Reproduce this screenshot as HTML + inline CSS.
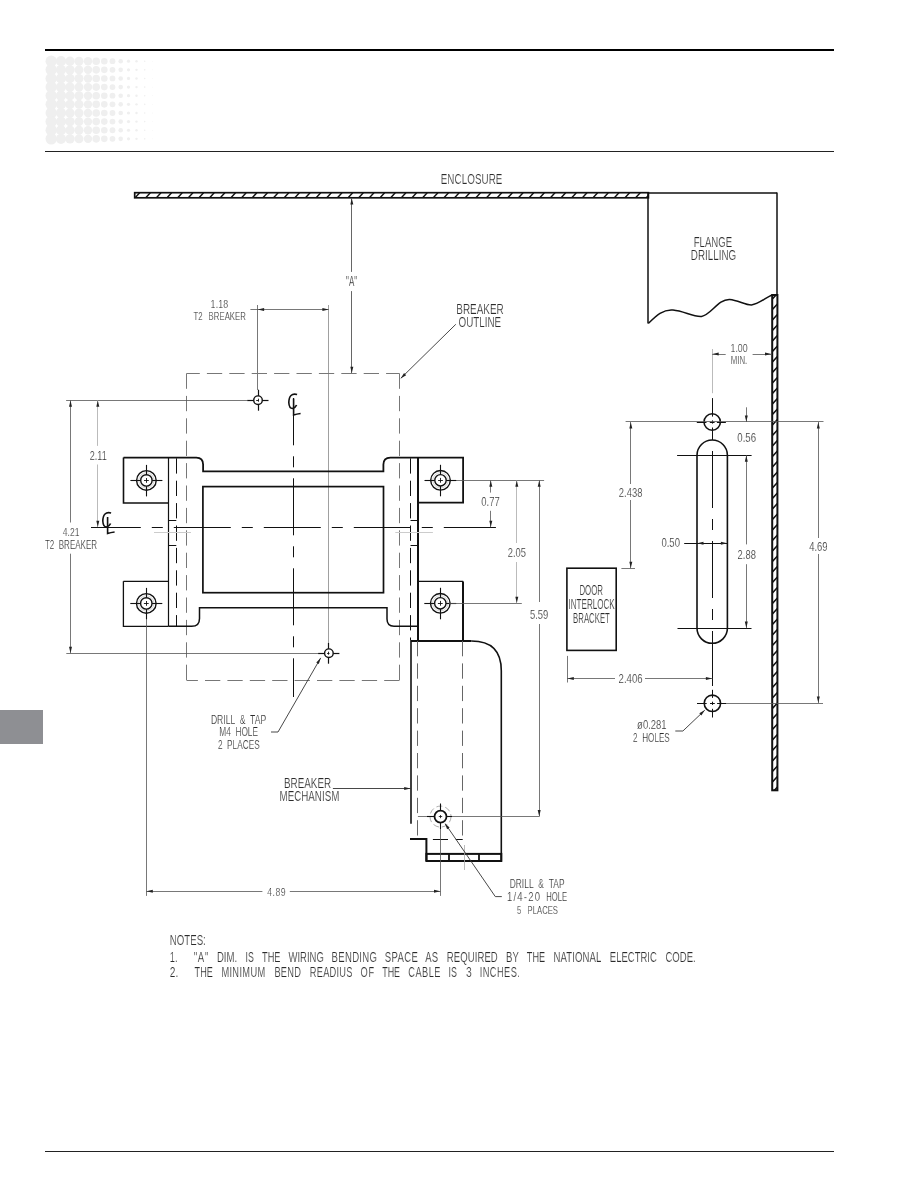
<!DOCTYPE html>
<html><head><meta charset="utf-8"><style>
html,body{margin:0;padding:0;background:#fff;}
body{width:918px;height:1188px;overflow:hidden;}
svg{display:block;}
text{font-family:"Liberation Sans",sans-serif;white-space:pre;}
</style></head><body>
<svg width="918" height="1188" viewBox="0 0 918 1188">
<rect width="918" height="1188" fill="#fff"/>
<line x1="45.00" y1="50.00" x2="834.00" y2="50.00" stroke="#000" stroke-width="2.0" />
<line x1="45.00" y1="151.50" x2="834.00" y2="151.50" stroke="#222" stroke-width="1.0" />
<line x1="45.00" y1="1151.50" x2="834.00" y2="1151.50" stroke="#222" stroke-width="1.0" />
<rect x="0" y="710" width="43" height="34" fill="#8e8f93"/>
<g fill="#efefef"><circle cx="51.20" cy="61.20" r="5.7"/><circle cx="61.00" cy="61.20" r="5.1"/><circle cx="70.00" cy="61.20" r="4.7"/><circle cx="79.00" cy="61.20" r="4.5"/><circle cx="88.00" cy="61.20" r="4.2"/><circle cx="96.20" cy="61.20" r="3.8"/><circle cx="104.30" cy="61.20" r="3.3"/><circle cx="112.50" cy="61.20" r="2.9"/><circle cx="120.70" cy="61.20" r="2.3"/><circle cx="128.50" cy="61.20" r="1.6"/><circle cx="136.50" cy="61.20" r="1.2"/><circle cx="144.70" cy="61.20" r="0.8"/><circle cx="152.50" cy="61.20" r="0.4"/><circle cx="51.20" cy="69.83" r="5.7"/><circle cx="61.00" cy="69.83" r="5.1"/><circle cx="70.00" cy="69.83" r="4.7"/><circle cx="79.00" cy="69.83" r="4.5"/><circle cx="88.00" cy="69.83" r="4.2"/><circle cx="96.20" cy="69.83" r="3.8"/><circle cx="104.30" cy="69.83" r="3.3"/><circle cx="112.50" cy="69.83" r="2.9"/><circle cx="120.70" cy="69.83" r="2.3"/><circle cx="128.50" cy="69.83" r="1.6"/><circle cx="136.50" cy="69.83" r="1.2"/><circle cx="144.70" cy="69.83" r="0.8"/><circle cx="152.50" cy="69.83" r="0.4"/><circle cx="51.20" cy="78.46" r="5.7"/><circle cx="61.00" cy="78.46" r="5.1"/><circle cx="70.00" cy="78.46" r="4.7"/><circle cx="79.00" cy="78.46" r="4.5"/><circle cx="88.00" cy="78.46" r="4.2"/><circle cx="96.20" cy="78.46" r="3.8"/><circle cx="104.30" cy="78.46" r="3.3"/><circle cx="112.50" cy="78.46" r="2.9"/><circle cx="120.70" cy="78.46" r="2.3"/><circle cx="128.50" cy="78.46" r="1.6"/><circle cx="136.50" cy="78.46" r="1.2"/><circle cx="144.70" cy="78.46" r="0.8"/><circle cx="152.50" cy="78.46" r="0.4"/><circle cx="51.20" cy="87.09" r="5.7"/><circle cx="61.00" cy="87.09" r="5.1"/><circle cx="70.00" cy="87.09" r="4.7"/><circle cx="79.00" cy="87.09" r="4.5"/><circle cx="88.00" cy="87.09" r="4.2"/><circle cx="96.20" cy="87.09" r="3.8"/><circle cx="104.30" cy="87.09" r="3.3"/><circle cx="112.50" cy="87.09" r="2.9"/><circle cx="120.70" cy="87.09" r="2.3"/><circle cx="128.50" cy="87.09" r="1.6"/><circle cx="136.50" cy="87.09" r="1.2"/><circle cx="144.70" cy="87.09" r="0.8"/><circle cx="152.50" cy="87.09" r="0.4"/><circle cx="51.20" cy="95.72" r="5.7"/><circle cx="61.00" cy="95.72" r="5.1"/><circle cx="70.00" cy="95.72" r="4.7"/><circle cx="79.00" cy="95.72" r="4.5"/><circle cx="88.00" cy="95.72" r="4.2"/><circle cx="96.20" cy="95.72" r="3.8"/><circle cx="104.30" cy="95.72" r="3.3"/><circle cx="112.50" cy="95.72" r="2.9"/><circle cx="120.70" cy="95.72" r="2.3"/><circle cx="128.50" cy="95.72" r="1.6"/><circle cx="136.50" cy="95.72" r="1.2"/><circle cx="144.70" cy="95.72" r="0.8"/><circle cx="152.50" cy="95.72" r="0.4"/><circle cx="51.20" cy="104.35" r="5.7"/><circle cx="61.00" cy="104.35" r="5.1"/><circle cx="70.00" cy="104.35" r="4.7"/><circle cx="79.00" cy="104.35" r="4.5"/><circle cx="88.00" cy="104.35" r="4.2"/><circle cx="96.20" cy="104.35" r="3.8"/><circle cx="104.30" cy="104.35" r="3.3"/><circle cx="112.50" cy="104.35" r="2.9"/><circle cx="120.70" cy="104.35" r="2.3"/><circle cx="128.50" cy="104.35" r="1.6"/><circle cx="136.50" cy="104.35" r="1.2"/><circle cx="144.70" cy="104.35" r="0.8"/><circle cx="152.50" cy="104.35" r="0.4"/><circle cx="51.20" cy="112.98" r="5.7"/><circle cx="61.00" cy="112.98" r="5.1"/><circle cx="70.00" cy="112.98" r="4.7"/><circle cx="79.00" cy="112.98" r="4.5"/><circle cx="88.00" cy="112.98" r="4.2"/><circle cx="96.20" cy="112.98" r="3.8"/><circle cx="104.30" cy="112.98" r="3.3"/><circle cx="112.50" cy="112.98" r="2.9"/><circle cx="120.70" cy="112.98" r="2.3"/><circle cx="128.50" cy="112.98" r="1.6"/><circle cx="136.50" cy="112.98" r="1.2"/><circle cx="144.70" cy="112.98" r="0.8"/><circle cx="152.50" cy="112.98" r="0.4"/><circle cx="51.20" cy="121.61" r="5.7"/><circle cx="61.00" cy="121.61" r="5.1"/><circle cx="70.00" cy="121.61" r="4.7"/><circle cx="79.00" cy="121.61" r="4.5"/><circle cx="88.00" cy="121.61" r="4.2"/><circle cx="96.20" cy="121.61" r="3.8"/><circle cx="104.30" cy="121.61" r="3.3"/><circle cx="112.50" cy="121.61" r="2.9"/><circle cx="120.70" cy="121.61" r="2.3"/><circle cx="128.50" cy="121.61" r="1.6"/><circle cx="136.50" cy="121.61" r="1.2"/><circle cx="144.70" cy="121.61" r="0.8"/><circle cx="152.50" cy="121.61" r="0.4"/><circle cx="51.20" cy="130.24" r="5.7"/><circle cx="61.00" cy="130.24" r="5.1"/><circle cx="70.00" cy="130.24" r="4.7"/><circle cx="79.00" cy="130.24" r="4.5"/><circle cx="88.00" cy="130.24" r="4.2"/><circle cx="96.20" cy="130.24" r="3.8"/><circle cx="104.30" cy="130.24" r="3.3"/><circle cx="112.50" cy="130.24" r="2.9"/><circle cx="120.70" cy="130.24" r="2.3"/><circle cx="128.50" cy="130.24" r="1.6"/><circle cx="136.50" cy="130.24" r="1.2"/><circle cx="144.70" cy="130.24" r="0.8"/><circle cx="152.50" cy="130.24" r="0.4"/><circle cx="51.20" cy="138.87" r="5.7"/><circle cx="61.00" cy="138.87" r="5.1"/><circle cx="70.00" cy="138.87" r="4.7"/><circle cx="79.00" cy="138.87" r="4.5"/><circle cx="88.00" cy="138.87" r="4.2"/><circle cx="96.20" cy="138.87" r="3.8"/><circle cx="104.30" cy="138.87" r="3.3"/><circle cx="112.50" cy="138.87" r="2.9"/><circle cx="120.70" cy="138.87" r="2.3"/><circle cx="128.50" cy="138.87" r="1.6"/><circle cx="136.50" cy="138.87" r="1.2"/><circle cx="144.70" cy="138.87" r="0.8"/><circle cx="152.50" cy="138.87" r="0.4"/></g>
<clipPath id="c5"><rect x="134.7" y="192.7" width="513.7" height="5.100000000000023"/></clipPath>
<path d="M135.10,197.80 L139.69,192.70 M145.75,197.80 L150.34,192.70 M156.40,197.80 L160.99,192.70 M167.05,197.80 L171.64,192.70 M177.70,197.80 L182.29,192.70 M188.35,197.80 L192.94,192.70 M199.00,197.80 L203.59,192.70 M209.65,197.80 L214.24,192.70 M220.30,197.80 L224.89,192.70 M230.95,197.80 L235.54,192.70 M241.60,197.80 L246.19,192.70 M252.25,197.80 L256.84,192.70 M262.90,197.80 L267.49,192.70 M273.55,197.80 L278.14,192.70 M284.20,197.80 L288.79,192.70 M294.85,197.80 L299.44,192.70 M305.50,197.80 L310.09,192.70 M316.15,197.80 L320.74,192.70 M326.80,197.80 L331.39,192.70 M337.45,197.80 L342.04,192.70 M348.10,197.80 L352.69,192.70 M358.75,197.80 L363.34,192.70 M369.40,197.80 L373.99,192.70 M380.05,197.80 L384.64,192.70 M390.70,197.80 L395.29,192.70 M401.35,197.80 L405.94,192.70 M412.00,197.80 L416.59,192.70 M422.65,197.80 L427.24,192.70 M433.30,197.80 L437.89,192.70 M443.95,197.80 L448.54,192.70 M454.60,197.80 L459.19,192.70 M465.25,197.80 L469.84,192.70 M475.90,197.80 L480.49,192.70 M486.55,197.80 L491.14,192.70 M497.20,197.80 L501.79,192.70 M507.85,197.80 L512.44,192.70 M518.50,197.80 L523.09,192.70 M529.15,197.80 L533.74,192.70 M539.80,197.80 L544.39,192.70 M550.45,197.80 L555.04,192.70 M561.10,197.80 L565.69,192.70 M571.75,197.80 L576.34,192.70 M582.40,197.80 L586.99,192.70 M593.05,197.80 L597.64,192.70 M603.70,197.80 L608.29,192.70 M614.35,197.80 L618.94,192.70 M625.00,197.80 L629.59,192.70 M635.65,197.80 L640.24,192.70 M646.30,197.80 L650.89,192.70 " stroke="#111" stroke-width="1.4" clip-path="url(#c5)"/>
<rect x="134.7" y="192.7" width="513.7" height="5.100000000000023" fill="none" stroke="#111" stroke-width="1.7"/>
<line x1="648.40" y1="193.00" x2="777.00" y2="193.00" stroke="#111" stroke-width="1.5" />
<line x1="648.00" y1="192.60" x2="648.00" y2="323.40" stroke="#111" stroke-width="1.5" />
<line x1="777.00" y1="192.60" x2="777.00" y2="295.00" stroke="#111" stroke-width="1.5" />
<path d="M648.4,323.4 C656,316 663,309 673,310 C684,311 693,317 701.5,316.4 C711,315 718,299 729.6,299.4 C738,300 745,305 751.4,304.9 C759,304 765,298 772,295" stroke="#111" stroke-width="1.5" fill="none" />
<clipPath id="c12"><rect x="772.2" y="295" width="5.199999999999932" height="495.29999999999995"/></clipPath>
<path d="M772.20,299.20 L777.40,293.48 M772.20,309.70 L777.40,303.98 M772.20,320.20 L777.40,314.48 M772.20,330.70 L777.40,324.98 M772.20,341.20 L777.40,335.48 M772.20,351.70 L777.40,345.98 M772.20,362.20 L777.40,356.48 M772.20,372.70 L777.40,366.98 M772.20,383.20 L777.40,377.48 M772.20,393.70 L777.40,387.98 M772.20,404.20 L777.40,398.48 M772.20,414.70 L777.40,408.98 M772.20,425.20 L777.40,419.48 M772.20,435.70 L777.40,429.98 M772.20,446.20 L777.40,440.48 M772.20,456.70 L777.40,450.98 M772.20,467.20 L777.40,461.48 M772.20,477.70 L777.40,471.98 M772.20,488.20 L777.40,482.48 M772.20,498.70 L777.40,492.98 M772.20,509.20 L777.40,503.48 M772.20,519.70 L777.40,513.98 M772.20,530.20 L777.40,524.48 M772.20,540.70 L777.40,534.98 M772.20,551.20 L777.40,545.48 M772.20,561.70 L777.40,555.98 M772.20,572.20 L777.40,566.48 M772.20,582.70 L777.40,576.98 M772.20,593.20 L777.40,587.48 M772.20,603.70 L777.40,597.98 M772.20,614.20 L777.40,608.48 M772.20,624.70 L777.40,618.98 M772.20,635.20 L777.40,629.48 M772.20,645.70 L777.40,639.98 M772.20,656.20 L777.40,650.48 M772.20,666.70 L777.40,660.98 M772.20,677.20 L777.40,671.48 M772.20,687.70 L777.40,681.98 M772.20,698.20 L777.40,692.48 M772.20,708.70 L777.40,702.98 M772.20,719.20 L777.40,713.48 M772.20,729.70 L777.40,723.98 M772.20,740.20 L777.40,734.48 M772.20,750.70 L777.40,744.98 M772.20,761.20 L777.40,755.48 M772.20,771.70 L777.40,765.98 M772.20,782.20 L777.40,776.48 M772.20,792.70 L777.40,786.98 " stroke="#111" stroke-width="1.5" clip-path="url(#c12)"/>
<rect x="772.2" y="295" width="5.199999999999932" height="495.29999999999995" fill="none" stroke="#111" stroke-width="2.0"/>
<line x1="351.50" y1="198.00" x2="351.50" y2="271.90" stroke="#555" stroke-width="0.9" />
<line x1="351.50" y1="291.10" x2="351.50" y2="373.00" stroke="#555" stroke-width="0.9" />
<path d="M351.80,198.20 L353.30,204.50 L350.30,204.50 Z" fill="#222"/>
<path d="M351.80,373.00 L350.30,366.70 L353.30,366.70 Z" fill="#222"/>
<line x1="257.50" y1="305.00" x2="257.50" y2="390.00" stroke="#555" stroke-width="0.8" />
<line x1="328.50" y1="305.00" x2="328.50" y2="642.50" stroke="#888" stroke-width="0.8" />
<line x1="250.40" y1="309.50" x2="328.70" y2="309.50" stroke="#555" stroke-width="0.8" />
<path d="M257.80,309.40 L264.10,307.90 L264.10,310.90 Z" fill="#222"/>
<path d="M328.70,309.40 L322.40,310.90 L322.40,307.90 Z" fill="#222"/>
<path d="M186.5,373.5 H399.5" fill="none" stroke="#777" stroke-width="1" stroke-dasharray="15.3 7.1" stroke-dashoffset="2"/>
<path d="M399.5,373.5 V680.5" fill="none" stroke="#777" stroke-width="1" stroke-dasharray="15.3 7.1" stroke-dashoffset="0"/>
<path d="M186.5,373.5 V680.5" fill="none" stroke="#777" stroke-width="1" stroke-dasharray="15.3 7.1" stroke-dashoffset="0"/>
<path d="M399.5,680.5 H186.5" fill="none" stroke="#777" stroke-width="1" stroke-dasharray="15.3 7.1" stroke-dashoffset="0"/>
<line x1="455.80" y1="324.30" x2="400.80" y2="378.30" stroke="#333" stroke-width="0.9" />
<path d="M400.60,378.50 L404.05,373.02 L406.15,375.16 Z" fill="#222"/>
<line x1="66.10" y1="400.50" x2="247.00" y2="400.50" stroke="#555" stroke-width="0.8" />
<line x1="66.30" y1="653.50" x2="318.00" y2="653.50" stroke="#555" stroke-width="0.8" />
<line x1="70.50" y1="400.20" x2="70.50" y2="522.50" stroke="#555" stroke-width="0.8" />
<line x1="70.50" y1="553.70" x2="70.50" y2="653.30" stroke="#555" stroke-width="0.8" />
<path d="M70.50,400.40 L72.00,406.70 L69.00,406.70 Z" fill="#222"/>
<path d="M70.50,653.10 L69.00,646.80 L72.00,646.80 Z" fill="#222"/>
<line x1="97.50" y1="400.20" x2="97.50" y2="445.90" stroke="#aaa" stroke-width="0.8" />
<line x1="97.50" y1="464.50" x2="97.50" y2="527.30" stroke="#aaa" stroke-width="0.8" />
<path d="M97.80,400.40 L99.30,406.70 L96.30,406.70 Z" fill="#222"/>
<path d="M97.80,527.10 L96.30,520.80 L99.30,520.80 Z" fill="#222"/>
<circle cx="258.00" cy="400.20" r="4.30" stroke="#111" stroke-width="1.4" fill="none" />
<line x1="247.20" y1="400.50" x2="253.70" y2="400.50" stroke="#111" stroke-width="1.2" />
<line x1="262.30" y1="400.50" x2="268.50" y2="400.50" stroke="#111" stroke-width="1.2" />
<line x1="258.50" y1="389.70" x2="258.50" y2="395.90" stroke="#111" stroke-width="1.2" />
<line x1="258.50" y1="404.50" x2="258.50" y2="410.70" stroke="#111" stroke-width="1.2" />
<line x1="256.20" y1="400.50" x2="258.60" y2="400.50" stroke="#111" stroke-width="0.9" />
<line x1="258.50" y1="398.70" x2="258.50" y2="401.70" stroke="#111" stroke-width="0.9" />
<circle cx="328.90" cy="653.20" r="4.30" stroke="#111" stroke-width="1.4" fill="none" />
<line x1="318.10" y1="653.50" x2="324.60" y2="653.50" stroke="#111" stroke-width="1.2" />
<line x1="333.20" y1="653.50" x2="339.40" y2="653.50" stroke="#111" stroke-width="1.2" />
<line x1="328.50" y1="642.70" x2="328.50" y2="648.90" stroke="#111" stroke-width="1.2" />
<line x1="328.50" y1="657.50" x2="328.50" y2="663.70" stroke="#111" stroke-width="1.2" />
<line x1="327.10" y1="653.50" x2="329.50" y2="653.50" stroke="#111" stroke-width="0.9" />
<line x1="328.50" y1="651.70" x2="328.50" y2="654.70" stroke="#111" stroke-width="0.9" />
<path d="M297.10,394.50 Q289.10,392.50 288.80,402.50 Q289.10,408.50 292.60,408.50 Q295.60,407.5  296.60,405.00" stroke="#111" stroke-width="1.6" fill="none" />
<path d="M293.60,398.50 L293.60,415.00 Q296.60,414.00 300.60,413.50" stroke="#111" stroke-width="1.6" fill="none" />
<path d="M111.10,513.00 Q103.10,511.00 102.80,521.00 Q103.10,527.00 106.60,527.00 Q109.60,526  110.60,523.50" stroke="#111" stroke-width="1.6" fill="none" />
<path d="M107.60,517.00 L107.60,533.50 Q110.60,532.50 114.60,532.00" stroke="#111" stroke-width="1.6" fill="none" />
<line x1="91.00" y1="527.50" x2="495.80" y2="527.50" stroke="#111" stroke-width="1.0" stroke-dasharray="57 11 11 11" stroke-dashoffset="7.2"/>
<line x1="293.50" y1="398.00" x2="293.50" y2="697.00" stroke="#111" stroke-width="1.0" stroke-dasharray="57 11 11 11" stroke-dashoffset="9.7"/>
<path d="M123.5,457.6 L196.3,457.6 Q203.1,457.6 203.1,464.5 L203.1,471.4 L383.4,471.4 L383.4,464.6 Q383.4,457.6 390.4,457.6 L463.1,457.6 L463.1,502.6 L418.2,502.6" stroke="#111" stroke-width="1.8" fill="none" />
<path d="M123.5,457.6 L123.5,503 L168.4,503" stroke="#111" stroke-width="1.6" fill="none" />
<rect x="202.9" y="486.6" width="180.6" height="106.1" fill="none" stroke="#111" stroke-width="1.7"/>
<path d="M168.5,626.3 L191.7,626.3 Q199.5,626.3 199.5,618.4 L199.5,607.7 L387,607.7 L387,619 Q387,626.2 394,626.2 L418.4,626.2" stroke="#111" stroke-width="1.5" fill="none" />
<path d="M123.4,581.3 L168.5,581.3 M123.4,581.3 L123.4,626.3 L168.5,626.3" stroke="#111" stroke-width="1.3" fill="none" />
<path d="M418.4,581.4 L463.2,581.4" stroke="#111" stroke-width="1.3" fill="none" />
<line x1="463.00" y1="581.40" x2="463.00" y2="640.70" stroke="#111" stroke-width="2.0" />
<line x1="168.50" y1="457.60" x2="168.50" y2="626.30" stroke="#111" stroke-width="1.2" />
<line x1="418.00" y1="457.60" x2="418.00" y2="640.70" stroke="#111" stroke-width="2.0" />
<line x1="176.50" y1="458.30" x2="176.50" y2="626.30" stroke="#111" stroke-width="1.0" stroke-dasharray="15.3 7.1"/>
<line x1="410.50" y1="458.30" x2="410.50" y2="640.70" stroke="#111" stroke-width="1.0" stroke-dasharray="15.3 7.1"/>
<line x1="168.50" y1="520.50" x2="176.30" y2="520.50" stroke="#111" stroke-width="1.0" />
<line x1="410.50" y1="520.50" x2="418.20" y2="520.50" stroke="#111" stroke-width="1.0" />
<line x1="168.50" y1="545.50" x2="176.30" y2="545.50" stroke="#111" stroke-width="1.0" />
<line x1="410.50" y1="545.50" x2="418.20" y2="545.50" stroke="#111" stroke-width="1.0" />
<line x1="154.00" y1="532.50" x2="191.00" y2="532.50" stroke="#ccc" stroke-width="1.2" />
<line x1="395.30" y1="532.50" x2="432.90" y2="532.50" stroke="#ccc" stroke-width="1.2" />
<circle cx="146.40" cy="480.40" r="9.80" stroke="#111" stroke-width="1.4" fill="none" />
<circle cx="146.40" cy="480.40" r="5.70" stroke="#111" stroke-width="1.4" fill="none" />
<circle cx="146.40" cy="480.40" r="7.70" stroke="#aaa" stroke-width="0.5" fill="none" />
<line x1="130.40" y1="480.50" x2="140.70" y2="480.50" stroke="#111" stroke-width="1.1" />
<line x1="152.10" y1="480.50" x2="162.40" y2="480.50" stroke="#111" stroke-width="1.1" />
<line x1="146.50" y1="464.90" x2="146.50" y2="474.70" stroke="#111" stroke-width="1.1" />
<line x1="146.50" y1="486.10" x2="146.50" y2="496.40" stroke="#111" stroke-width="1.1" />
<line x1="144.00" y1="480.50" x2="148.80" y2="480.50" stroke="#111" stroke-width="0.9" />
<line x1="146.50" y1="478.00" x2="146.50" y2="482.80" stroke="#111" stroke-width="0.9" />
<circle cx="440.50" cy="480.30" r="9.80" stroke="#111" stroke-width="1.4" fill="none" />
<circle cx="440.50" cy="480.30" r="5.70" stroke="#111" stroke-width="1.4" fill="none" />
<circle cx="440.50" cy="480.30" r="7.70" stroke="#aaa" stroke-width="0.5" fill="none" />
<line x1="424.50" y1="480.50" x2="434.80" y2="480.50" stroke="#111" stroke-width="1.1" />
<line x1="446.20" y1="480.50" x2="456.50" y2="480.50" stroke="#111" stroke-width="1.1" />
<line x1="440.50" y1="464.80" x2="440.50" y2="474.60" stroke="#111" stroke-width="1.1" />
<line x1="440.50" y1="486.00" x2="440.50" y2="496.30" stroke="#111" stroke-width="1.1" />
<line x1="438.10" y1="480.50" x2="442.90" y2="480.50" stroke="#111" stroke-width="0.9" />
<line x1="440.50" y1="477.90" x2="440.50" y2="482.70" stroke="#111" stroke-width="0.9" />
<circle cx="146.30" cy="603.40" r="9.80" stroke="#111" stroke-width="1.4" fill="none" />
<circle cx="146.30" cy="603.40" r="5.70" stroke="#111" stroke-width="1.4" fill="none" />
<circle cx="146.30" cy="603.40" r="7.70" stroke="#aaa" stroke-width="0.5" fill="none" />
<line x1="130.30" y1="603.50" x2="140.60" y2="603.50" stroke="#111" stroke-width="1.1" />
<line x1="152.00" y1="603.50" x2="162.30" y2="603.50" stroke="#111" stroke-width="1.1" />
<line x1="146.50" y1="587.90" x2="146.50" y2="597.70" stroke="#111" stroke-width="1.1" />
<line x1="146.50" y1="609.10" x2="146.50" y2="619.40" stroke="#111" stroke-width="1.1" />
<line x1="143.90" y1="603.50" x2="148.70" y2="603.50" stroke="#111" stroke-width="0.9" />
<line x1="146.50" y1="601.00" x2="146.50" y2="605.80" stroke="#111" stroke-width="0.9" />
<circle cx="440.30" cy="603.30" r="9.80" stroke="#111" stroke-width="1.4" fill="none" />
<circle cx="440.30" cy="603.30" r="5.70" stroke="#111" stroke-width="1.4" fill="none" />
<circle cx="440.30" cy="603.30" r="7.70" stroke="#aaa" stroke-width="0.5" fill="none" />
<line x1="424.30" y1="603.50" x2="434.60" y2="603.50" stroke="#111" stroke-width="1.1" />
<line x1="446.00" y1="603.50" x2="456.30" y2="603.50" stroke="#111" stroke-width="1.1" />
<line x1="440.50" y1="587.80" x2="440.50" y2="597.60" stroke="#111" stroke-width="1.1" />
<line x1="440.50" y1="609.00" x2="440.50" y2="619.30" stroke="#111" stroke-width="1.1" />
<line x1="437.90" y1="603.50" x2="442.70" y2="603.50" stroke="#111" stroke-width="0.9" />
<line x1="440.50" y1="600.90" x2="440.50" y2="605.70" stroke="#111" stroke-width="0.9" />
<line x1="456.00" y1="480.50" x2="544.10" y2="480.50" stroke="#555" stroke-width="0.8" />
<line x1="463.00" y1="527.50" x2="495.60" y2="527.50" stroke="#111" stroke-width="1.0" />
<line x1="449.00" y1="603.50" x2="521.80" y2="603.50" stroke="#555" stroke-width="0.8" />
<line x1="490.50" y1="480.30" x2="490.50" y2="492.60" stroke="#555" stroke-width="0.8" />
<line x1="490.50" y1="510.80" x2="490.50" y2="527.20" stroke="#555" stroke-width="0.8" />
<path d="M490.80,480.50 L492.30,486.80 L489.30,486.80 Z" fill="#222"/>
<path d="M490.80,527.00 L489.30,520.70 L492.30,520.70 Z" fill="#222"/>
<line x1="516.50" y1="480.30" x2="516.50" y2="543.00" stroke="#aaa" stroke-width="0.8" />
<line x1="516.50" y1="562.00" x2="516.50" y2="603.20" stroke="#aaa" stroke-width="0.8" />
<path d="M516.80,480.50 L518.30,486.80 L515.30,486.80 Z" fill="#222"/>
<path d="M516.80,603.00 L515.30,596.70 L518.30,596.70 Z" fill="#222"/>
<line x1="539.50" y1="480.30" x2="539.50" y2="602.00" stroke="#555" stroke-width="0.8" />
<line x1="539.50" y1="624.00" x2="539.50" y2="816.60" stroke="#555" stroke-width="0.8" />
<path d="M539.20,480.50 L540.70,486.80 L537.70,486.80 Z" fill="#222"/>
<path d="M539.20,816.40 L537.70,810.10 L540.70,810.10 Z" fill="#222"/>
<line x1="410.90" y1="641.00" x2="471.50" y2="641.00" stroke="#111" stroke-width="2.0" />
<path d="M471.5,641 Q501.3,641 501.3,670.7 L501.3,861" stroke="#111" stroke-width="1.6" fill="none" />
<line x1="411.00" y1="640.70" x2="411.00" y2="823.80" stroke="#111" stroke-width="1.6" />
<line x1="417.50" y1="641.00" x2="417.50" y2="839.00" stroke="#666" stroke-width="1.0" stroke-dasharray="15.3 7.1"/>
<line x1="462.50" y1="641.00" x2="462.50" y2="839.00" stroke="#666" stroke-width="1.0" stroke-dasharray="15.3 7.1"/>
<path d="M410,839.1 L426.4,839.1 L426.4,861" stroke="#111" stroke-width="2.0" fill="none" />
<rect x="426.4" y="853.9" width="74.9" height="7.1" fill="none" stroke="#111" stroke-width="2"/>
<line x1="449.00" y1="853.90" x2="449.00" y2="861.00" stroke="#111" stroke-width="1.8" />
<line x1="479.00" y1="853.90" x2="479.00" y2="861.00" stroke="#111" stroke-width="1.8" />
<line x1="432.90" y1="839.50" x2="448.00" y2="839.50" stroke="#111" stroke-width="1.0" />
<line x1="455.80" y1="839.50" x2="462.70" y2="839.50" stroke="#111" stroke-width="1.0" />
<line x1="464.50" y1="845.00" x2="464.50" y2="870.00" stroke="#aaa" stroke-width="0.8" />
<circle cx="440.50" cy="816.60" r="6.00" stroke="#111" stroke-width="1.8" fill="none" />
<circle cx="440.50" cy="816.60" r="10.50" stroke="#777" stroke-width="0.6" fill="none" stroke-dasharray="6 3"/>
<line x1="427.00" y1="816.50" x2="434.50" y2="816.50" stroke="#111" stroke-width="1.1" />
<line x1="446.50" y1="816.50" x2="452.50" y2="816.50" stroke="#111" stroke-width="1.1" />
<line x1="440.50" y1="803.50" x2="440.50" y2="810.60" stroke="#111" stroke-width="1.1" />
<line x1="440.50" y1="822.60" x2="440.50" y2="829.00" stroke="#111" stroke-width="1.1" />
<line x1="438.80" y1="816.50" x2="442.20" y2="816.50" stroke="#111" stroke-width="0.8" />
<line x1="440.50" y1="815.00" x2="440.50" y2="818.20" stroke="#111" stroke-width="0.8" />
<line x1="452.50" y1="816.50" x2="539.20" y2="816.50" stroke="#555" stroke-width="0.8" />
<line x1="417.90" y1="816.50" x2="427.00" y2="816.50" stroke="#555" stroke-width="0.8" />
<line x1="440.50" y1="829.00" x2="440.50" y2="895.90" stroke="#555" stroke-width="0.8" />
<line x1="146.50" y1="619.00" x2="146.50" y2="895.90" stroke="#555" stroke-width="0.8" />
<line x1="146.30" y1="891.50" x2="262.40" y2="891.50" stroke="#555" stroke-width="0.8" />
<line x1="289.80" y1="891.50" x2="440.50" y2="891.50" stroke="#555" stroke-width="0.8" />
<path d="M146.50,891.20 L152.80,889.70 L152.80,892.70 Z" fill="#222"/>
<path d="M440.30,891.20 L434.00,892.70 L434.00,889.70 Z" fill="#222"/>
<path d="M445.3,823.8 L495.3,896.6 L501.8,896.6" stroke="#333" stroke-width="0.9" fill="none" />
<path d="M444.80,823.20 L449.60,827.54 L447.13,829.24 Z" fill="#222"/>
<line x1="332.90" y1="788.50" x2="410.50" y2="788.50" stroke="#333" stroke-width="0.9" />
<path d="M410.50,788.40 L404.20,789.90 L404.20,786.90 Z" fill="#222"/>
<path d="M320.7,657.9 L278,732 L271,732" stroke="#333" stroke-width="0.9" fill="none" />
<path d="M320.70,657.90 L318.85,664.11 L316.25,662.61 Z" fill="#222"/>
<path d="M697,455.2 A15.2,15.2 0 0 1 727.4,455.2 L727.4,628.1 A15.2,15.2 0 0 1 697,628.1 Z" stroke="#111" stroke-width="1.6" fill="none" />
<line x1="712.50" y1="431.00" x2="712.50" y2="643.00" stroke="#111" stroke-width="1.0" stroke-dasharray="57 11 11 11" stroke-dashoffset="-20"/>
<line x1="712.50" y1="643.00" x2="712.50" y2="686.00" stroke="#111" stroke-width="1.0" />
<circle cx="712.20" cy="422.00" r="8.20" stroke="#111" stroke-width="1.6" fill="none" />
<line x1="696.80" y1="422.50" x2="706.50" y2="422.50" stroke="#111" stroke-width="1.0" />
<line x1="709.80" y1="422.50" x2="714.60" y2="422.50" stroke="#111" stroke-width="1.0" />
<line x1="716.90" y1="422.50" x2="725.90" y2="422.50" stroke="#111" stroke-width="1.0" />
<line x1="712.50" y1="398.10" x2="712.50" y2="416.60" stroke="#111" stroke-width="1.0" />
<line x1="712.50" y1="420.40" x2="712.50" y2="423.60" stroke="#111" stroke-width="1.0" />
<line x1="712.50" y1="427.50" x2="712.50" y2="436.20" stroke="#111" stroke-width="1.0" />
<circle cx="712.40" cy="703.30" r="8.20" stroke="#111" stroke-width="1.6" fill="none" />
<line x1="697.00" y1="703.50" x2="706.70" y2="703.50" stroke="#111" stroke-width="1.0" />
<line x1="710.00" y1="703.50" x2="714.80" y2="703.50" stroke="#111" stroke-width="1.0" />
<line x1="717.10" y1="703.50" x2="726.10" y2="703.50" stroke="#111" stroke-width="1.0" />
<line x1="712.50" y1="689.80" x2="712.50" y2="697.90" stroke="#111" stroke-width="1.0" />
<line x1="712.50" y1="701.70" x2="712.50" y2="704.90" stroke="#111" stroke-width="1.0" />
<line x1="712.50" y1="708.80" x2="712.50" y2="717.50" stroke="#111" stroke-width="1.0" />
<line x1="625.60" y1="421.50" x2="823.50" y2="421.50" stroke="#555" stroke-width="0.8" />
<line x1="677.10" y1="455.50" x2="751.60" y2="455.50" stroke="#111" stroke-width="1.0" />
<line x1="677.50" y1="628.50" x2="751.50" y2="628.50" stroke="#111" stroke-width="1.0" />
<line x1="726.00" y1="703.50" x2="823.00" y2="703.50" stroke="#555" stroke-width="0.8" />
<line x1="621.40" y1="568.50" x2="635.00" y2="568.50" stroke="#555" stroke-width="0.8" />
<line x1="630.50" y1="422.00" x2="630.50" y2="484.00" stroke="#555" stroke-width="0.8" />
<line x1="630.50" y1="500.00" x2="630.50" y2="568.20" stroke="#555" stroke-width="0.8" />
<path d="M630.80,422.20 L632.30,428.50 L629.30,428.50 Z" fill="#222"/>
<path d="M630.80,568.00 L629.30,561.70 L632.30,561.70 Z" fill="#222"/>
<line x1="818.50" y1="422.00" x2="818.50" y2="538.00" stroke="#555" stroke-width="0.8" />
<line x1="818.50" y1="554.00" x2="818.50" y2="703.00" stroke="#555" stroke-width="0.8" />
<path d="M818.30,422.20 L819.80,428.50 L816.80,428.50 Z" fill="#222"/>
<path d="M818.30,702.80 L816.80,696.50 L819.80,696.50 Z" fill="#222"/>
<line x1="746.50" y1="455.20" x2="746.50" y2="544.40" stroke="#555" stroke-width="0.8" />
<line x1="746.50" y1="564.20" x2="746.50" y2="628.10" stroke="#555" stroke-width="0.8" />
<path d="M746.30,455.40 L747.80,461.70 L744.80,461.70 Z" fill="#222"/>
<path d="M746.30,627.90 L744.80,621.60 L747.80,621.60 Z" fill="#222"/>
<line x1="746.50" y1="407.30" x2="746.50" y2="422.00" stroke="#555" stroke-width="0.8" />
<path d="M746.30,421.80 L744.80,415.50 L747.80,415.50 Z" fill="#222"/>
<line x1="684.20" y1="543.50" x2="727.00" y2="543.50" stroke="#111" stroke-width="1.0" />
<path d="M697.20,543.20 L703.50,541.70 L703.50,544.70 Z" fill="#222"/>
<path d="M727.20,543.20 L720.90,544.70 L720.90,541.70 Z" fill="#222"/>
<line x1="712.50" y1="349.00" x2="712.50" y2="393.20" stroke="#aaa" stroke-width="0.8" />
<line x1="712.20" y1="354.50" x2="725.70" y2="354.50" stroke="#555" stroke-width="0.8" />
<line x1="752.60" y1="354.50" x2="771.50" y2="354.50" stroke="#555" stroke-width="0.8" />
<path d="M712.40,354.00 L718.70,352.50 L718.70,355.50 Z" fill="#222"/>
<path d="M771.30,354.00 L765.00,355.50 L765.00,352.50 Z" fill="#222"/>
<rect x="566.9" y="568.2" width="49.3" height="82.2" fill="none" stroke="#111" stroke-width="1.6"/>
<line x1="567.50" y1="655.90" x2="567.50" y2="682.50" stroke="#555" stroke-width="0.8" />
<line x1="567.10" y1="678.50" x2="615.00" y2="678.50" stroke="#555" stroke-width="0.8" />
<line x1="645.00" y1="678.50" x2="712.40" y2="678.50" stroke="#555" stroke-width="0.8" />
<path d="M567.50,678.50 L573.80,677.00 L573.80,680.00 Z" fill="#222"/>
<path d="M712.20,678.50 L705.90,680.00 L705.90,677.00 Z" fill="#222"/>
<path d="M704.7,710.3 L682.9,731 L675.3,731" stroke="#333" stroke-width="0.9" fill="none" />
<path d="M704.90,710.10 L701.37,715.53 L699.30,713.35 Z" fill="#222"/>
<g opacity="0.995"><text transform="translate(440.70,183.50) scale(0.7000,1)" font-size="14.05" letter-spacing="0.108" fill="#2a2a2a" stroke="#fff" stroke-width="0.22">ENCLOSURE</text>
<text transform="translate(693.70,246.70) scale(0.6705,1)" font-size="14.35" letter-spacing="0.000" fill="#2a2a2a" stroke="#fff" stroke-width="0.22">FLANGE</text>
<text transform="translate(690.80,259.80) scale(0.6859,1)" font-size="14.35" letter-spacing="0.000" fill="#2a2a2a" stroke="#fff" stroke-width="0.22">DRILLING</text>
<text transform="translate(346.10,285.80) scale(0.5450,1)" font-size="14.66" letter-spacing="-0.000" fill="#2a2a2a" stroke="#fff" stroke-width="0.22">&quot;A&quot;</text>
<text transform="translate(210.60,307.60) scale(0.7840,1)" font-size="11.30" letter-spacing="0.155" fill="#2a2a2a" stroke="#fff" stroke-width="0.22">1.18</text>
<text transform="translate(193.50,319.80) scale(0.7000,1)" font-size="11.15" word-spacing="5.490" fill="#2a2a2a" stroke="#fff" stroke-width="0.22">T2 BREAKER</text>
<text transform="translate(456.30,313.90) scale(0.6926,1)" font-size="14.35" letter-spacing="0.000" fill="#2a2a2a" stroke="#fff" stroke-width="0.22">BREAKER</text>
<text transform="translate(458.50,327.00) scale(0.6793,1)" font-size="14.50" letter-spacing="0.000" fill="#2a2a2a" stroke="#fff" stroke-width="0.22">OUTLINE</text>
<text transform="translate(89.80,459.80) scale(0.7081,1)" font-size="12.82" letter-spacing="0.000" fill="#2a2a2a" stroke="#fff" stroke-width="0.22">2.11</text>
<text transform="translate(62.80,536.20) scale(0.7256,1)" font-size="11.76" letter-spacing="0.000" fill="#2a2a2a" stroke="#fff" stroke-width="0.22">4.21</text>
<text transform="translate(44.90,548.80) scale(0.6585,1)" font-size="12.21" word-spacing="3.402" fill="#2a2a2a" stroke="#fff" stroke-width="0.22">T2 BREAKER</text>
<text transform="translate(481.20,505.80) scale(0.7840,1)" font-size="12.06" letter-spacing="0.042" fill="#2a2a2a" stroke="#fff" stroke-width="0.22">0.77</text>
<text transform="translate(507.70,557.00) scale(0.7754,1)" font-size="12.06" letter-spacing="0.000" fill="#2a2a2a" stroke="#fff" stroke-width="0.22">2.05</text>
<text transform="translate(530.00,619.10) scale(0.7797,1)" font-size="12.06" letter-spacing="0.000" fill="#2a2a2a" stroke="#fff" stroke-width="0.22">5.59</text>
<text transform="translate(267.30,895.50) scale(0.7840,1)" font-size="11.15" letter-spacing="0.509" fill="#2a2a2a" stroke="#fff" stroke-width="0.22">4.89</text>
<text transform="translate(509.70,887.50) scale(0.7000,1)" font-size="12.06" word-spacing="3.797" fill="#2a2a2a" stroke="#fff" stroke-width="0.22">DRILL &amp; TAP</text>
<text transform="translate(507.00,901.00) scale(0.7840,1)" font-size="12.21" letter-spacing="1.493" fill="#2a2a2a" stroke="#fff" stroke-width="0.22">1/4-20</text>
<text transform="translate(546.30,900.80) scale(0.6445,1)" font-size="11.91" letter-spacing="0.000" fill="#2a2a2a" stroke="#fff" stroke-width="0.22">HOLE</text>
<text transform="translate(516.90,913.60) scale(0.7000,1)" font-size="10.99" word-spacing="6.171" fill="#2a2a2a" stroke="#fff" stroke-width="0.22">5 PLACES</text>
<text transform="translate(283.90,787.90) scale(0.6838,1)" font-size="14.50" letter-spacing="0.000" fill="#2a2a2a" stroke="#fff" stroke-width="0.22">BREAKER</text>
<text transform="translate(279.50,801.00) scale(0.6758,1)" font-size="14.50" letter-spacing="0.000" fill="#2a2a2a" stroke="#fff" stroke-width="0.22">MECHANISM</text>
<text transform="translate(210.90,724.10) scale(0.6464,1)" font-size="13.28" word-spacing="3.768" fill="#2a2a2a" stroke="#fff" stroke-width="0.22">DRILL &amp; TAP</text>
<text transform="translate(219.30,736.30) scale(0.6539,1)" font-size="12.67" word-spacing="3.554" fill="#2a2a2a" stroke="#fff" stroke-width="0.22">M4 HOLE</text>
<text transform="translate(217.90,748.90) scale(0.6601,1)" font-size="12.52" word-spacing="3.478" fill="#2a2a2a" stroke="#fff" stroke-width="0.22">2 PLACES</text>
<text transform="translate(618.80,497.10) scale(0.7101,1)" font-size="13.28" letter-spacing="0.000" fill="#2a2a2a" stroke="#fff" stroke-width="0.22">2.438</text>
<text transform="translate(809.20,550.70) scale(0.7080,1)" font-size="13.28" letter-spacing="0.000" fill="#2a2a2a" stroke="#fff" stroke-width="0.22">4.69</text>
<text transform="translate(737.60,558.90) scale(0.7080,1)" font-size="13.28" letter-spacing="0.000" fill="#2a2a2a" stroke="#fff" stroke-width="0.22">2.88</text>
<text transform="translate(737.30,441.90) scale(0.7533,1)" font-size="12.82" letter-spacing="0.000" fill="#2a2a2a" stroke="#fff" stroke-width="0.22">0.56</text>
<text transform="translate(661.40,547.10) scale(0.7543,1)" font-size="12.67" letter-spacing="0.000" fill="#2a2a2a" stroke="#fff" stroke-width="0.22">0.50</text>
<text transform="translate(730.50,351.80) scale(0.7618,1)" font-size="11.60" letter-spacing="0.000" fill="#2a2a2a" stroke="#fff" stroke-width="0.22">1.00</text>
<text transform="translate(730.80,364.00) scale(0.6971,1)" font-size="11.15" letter-spacing="0.000" fill="#2a2a2a" stroke="#fff" stroke-width="0.22">MIN.</text>
<text transform="translate(579.40,595.40) scale(0.5447,1)" font-size="14.50" letter-spacing="0.000" fill="#2a2a2a" stroke="#fff" stroke-width="0.22">DOOR</text>
<text transform="translate(568.50,609.00) scale(0.5578,1)" font-size="14.50" letter-spacing="0.000" fill="#2a2a2a" stroke="#fff" stroke-width="0.22">INTERLOCK</text>
<text transform="translate(573.10,622.60) scale(0.5372,1)" font-size="14.50" letter-spacing="0.000" fill="#2a2a2a" stroke="#fff" stroke-width="0.22">BRACKET</text>
<text transform="translate(618.60,682.50) scale(0.7222,1)" font-size="13.28" letter-spacing="0.000" fill="#2a2a2a" stroke="#fff" stroke-width="0.22">2.406</text>
<text transform="translate(637.10,729.40) scale(0.7570,1)" font-size="12.52" letter-spacing="0.000" fill="#2a2a2a" stroke="#fff" stroke-width="0.22">ø0.281</text>
<text transform="translate(633.10,741.90) scale(0.6506,1)" font-size="12.52" word-spacing="3.529" fill="#2a2a2a" stroke="#fff" stroke-width="0.22">2 HOLES</text>
<text transform="translate(169.80,945.40) scale(0.6667,1)" font-size="14.50" letter-spacing="0.000" fill="#2a2a2a" stroke="#fff" stroke-width="0.22">NOTES:</text>
<text transform="translate(169.80,962.00) scale(0.6251,1)" font-size="14.96" letter-spacing="0.000" fill="#2a2a2a" stroke="#fff" stroke-width="0.22">1.</text>
<text transform="translate(193.70,962.00) scale(0.6400,1)" font-size="14.96" letter-spacing="1.183" fill="#2a2a2a" stroke="#fff" stroke-width="0.22">&quot;A&quot;</text>
<text transform="translate(216.90,962.00) scale(0.6396,1)" font-size="14.96" letter-spacing="0.000" fill="#2a2a2a" stroke="#fff" stroke-width="0.22">DIM.</text>
<text transform="translate(245.60,962.00) scale(0.5870,1)" font-size="14.96" letter-spacing="0.000" fill="#2a2a2a" stroke="#fff" stroke-width="0.22">IS</text>
<text transform="translate(262.00,962.00) scale(0.6182,1)" font-size="14.96" letter-spacing="0.000" fill="#2a2a2a" stroke="#fff" stroke-width="0.22">THE</text>
<text transform="translate(288.50,962.00) scale(0.6339,1)" font-size="14.96" letter-spacing="0.000" fill="#2a2a2a" stroke="#fff" stroke-width="0.22">WIRING</text>
<text transform="translate(331.60,962.00) scale(0.6400,1)" font-size="14.96" letter-spacing="0.462" fill="#2a2a2a" stroke="#fff" stroke-width="0.22">BENDING</text>
<text transform="translate(384.80,962.00) scale(0.6400,1)" font-size="14.96" letter-spacing="0.526" fill="#2a2a2a" stroke="#fff" stroke-width="0.22">SPACE</text>
<text transform="translate(425.30,962.00) scale(0.6363,1)" font-size="14.96" letter-spacing="0.000" fill="#2a2a2a" stroke="#fff" stroke-width="0.22">AS</text>
<text transform="translate(446.80,962.00) scale(0.6400,1)" font-size="14.96" letter-spacing="0.103" fill="#2a2a2a" stroke="#fff" stroke-width="0.22">REQUIRED</text>
<text transform="translate(505.90,962.00) scale(0.6400,1)" font-size="14.96" letter-spacing="0.510" fill="#2a2a2a" stroke="#fff" stroke-width="0.22">BY</text>
<text transform="translate(526.80,962.00) scale(0.6116,1)" font-size="14.96" letter-spacing="0.000" fill="#2a2a2a" stroke="#fff" stroke-width="0.22">THE</text>
<text transform="translate(553.60,962.00) scale(0.6400,1)" font-size="14.96" letter-spacing="0.116" fill="#2a2a2a" stroke="#fff" stroke-width="0.22">NATIONAL</text>
<text transform="translate(609.80,962.00) scale(0.6366,1)" font-size="14.96" letter-spacing="0.000" fill="#2a2a2a" stroke="#fff" stroke-width="0.22">ELECTRIC</text>
<text transform="translate(665.40,962.00) scale(0.6400,1)" font-size="14.96" letter-spacing="0.029" fill="#2a2a2a" stroke="#fff" stroke-width="0.22">CODE.</text>
<text transform="translate(169.80,977.10) scale(0.7027,1)" font-size="14.50" letter-spacing="0.000" fill="#2a2a2a" stroke="#fff" stroke-width="0.22">2.</text>
<text transform="translate(194.60,977.10) scale(0.6309,1)" font-size="14.50" letter-spacing="0.000" fill="#2a2a2a" stroke="#fff" stroke-width="0.22">THE</text>
<text transform="translate(221.40,977.10) scale(0.6400,1)" font-size="14.50" letter-spacing="0.531" fill="#2a2a2a" stroke="#fff" stroke-width="0.22">MINIMUM</text>
<text transform="translate(274.40,977.10) scale(0.6400,1)" font-size="14.50" letter-spacing="0.372" fill="#2a2a2a" stroke="#fff" stroke-width="0.22">BEND</text>
<text transform="translate(309.80,977.10) scale(0.6400,1)" font-size="14.50" letter-spacing="0.375" fill="#2a2a2a" stroke="#fff" stroke-width="0.22">READIUS</text>
<text transform="translate(360.40,977.10) scale(0.6400,1)" font-size="14.50" letter-spacing="1.260" fill="#2a2a2a" stroke="#fff" stroke-width="0.22">OF</text>
<text transform="translate(382.20,977.10) scale(0.6171,1)" font-size="14.50" letter-spacing="0.000" fill="#2a2a2a" stroke="#fff" stroke-width="0.22">THE</text>
<text transform="translate(408.30,977.10) scale(0.6400,1)" font-size="14.50" letter-spacing="0.728" fill="#2a2a2a" stroke="#fff" stroke-width="0.22">CABLE</text>
<text transform="translate(448.50,977.10) scale(0.6129,1)" font-size="14.50" letter-spacing="0.000" fill="#2a2a2a" stroke="#fff" stroke-width="0.22">IS</text>
<text transform="translate(466.00,977.10) scale(0.7168,1)" font-size="14.50"  fill="#2a2a2a" stroke="#fff" stroke-width="0.22">3</text>
<text transform="translate(479.70,977.10) scale(0.6400,1)" font-size="14.50" letter-spacing="0.690" fill="#2a2a2a" stroke="#fff" stroke-width="0.22">INCHES.</text></g>
</svg></body></html>
